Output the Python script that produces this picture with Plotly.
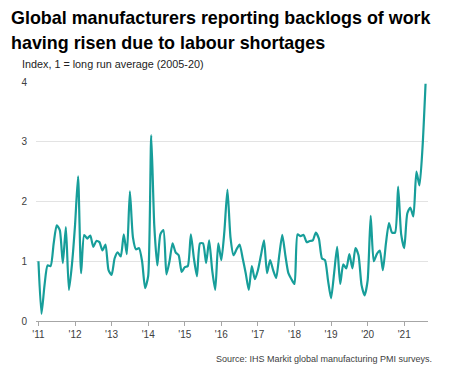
import plotly.graph_objects as go

# Monthly index, Jan 2011 .. Aug 2021 (1 = long run average)
values = [
    1.00, 0.12, 0.60, 0.93, 0.92, 1.30, 1.60, 1.52, 0.97, 1.57, 0.52, 0.95,   # 2011
    1.60, 2.42, 0.80, 1.44, 1.38, 1.43, 1.24, 1.34, 1.32, 1.18, 1.28, 0.85,   # 2012
    0.77, 1.05, 1.15, 1.08, 1.45, 1.12, 2.17, 1.40, 1.20, 1.22, 1.00, 0.55,   # 2013
    0.75, 3.11, 1.60, 0.93, 1.45, 1.52, 0.78, 1.00, 1.30, 1.15, 1.10, 0.82,   # 2014
    0.90, 0.92, 1.45, 1.05, 0.75, 1.30, 1.30, 0.97, 1.35, 0.85, 0.52, 1.30,   # 2015
    1.02, 1.50, 2.20, 1.40, 1.10, 1.20, 1.28, 1.05, 0.80, 0.52, 0.92, 0.70,   # 2016
    0.85, 1.10, 1.35, 0.80, 1.02, 0.85, 0.72, 1.10, 1.44, 1.10, 0.80, 0.70,   # 2017
    0.62, 1.45, 1.42, 1.44, 1.32, 1.34, 1.35, 1.48, 1.38, 1.05, 1.02, 0.68,   # 2018
    0.38, 0.80, 1.24, 0.62, 0.95, 0.88, 1.12, 0.88, 1.22, 1.10, 0.60, 0.43,   # 2019
    0.68, 1.76, 1.00, 1.12, 1.18, 0.85, 1.30, 1.64, 1.48, 1.48, 2.25, 1.45,   # 2020
    1.22, 1.80, 1.90, 1.75, 2.50, 2.27, 2.90, 3.97,                           # 2021
]
months = list(range(len(values)))
tick_positions = [0, 12, 24, 36, 48, 60, 72, 84, 96, 108, 120]
tick_labels = ["'11", "'12", "'13", "'14", "'15", "'16", "'17", "'18", "'19", "'20", "'21"]
y_ticks = [0, 1, 2, 3, 4]

title_lines = ["Global manufacturers reporting backlogs of work",
               "having risen due to labour shortages"]
subtitle = "Index, 1 = long run average (2005-20)"
source = "Source: IHS Markit global manufacturing PMI surveys."

# The page body adds an 8px offset, so the figure is sized to fill the rest
OFF = 8
W, H = 458 - OFF, 376 - OFF
L, R, T, B = 36 - OFF, 30, 82 - OFF, 55
plot_h = H - T - B
plot_w = W - L - R

def py(ref_y):
    return (H - B - (ref_y - OFF)) / plot_h

def px(ref_x):
    return ((ref_x - OFF) - L) / plot_w

fig = go.Figure()
fig.add_trace(go.Scatter(
    x=months, y=values, mode="lines",
    line=dict(color="#179e9a", width=2.2, shape="spline", smoothing=0.6),
    hoverinfo="skip", showlegend=False,
))

font_main = "Liberation Sans, Arial, sans-serif"

fig.update_layout(
    width=W, height=H,
    margin=dict(l=L, r=R, t=T, b=B),
    paper_bgcolor="white", plot_bgcolor="white",
    font=dict(family=font_main, color="#333333"),
    xaxis=dict(
        range=[-0.8, 127.8],
        tickmode="array", tickvals=tick_positions, ticktext=tick_labels,
        showgrid=False, zeroline=False,
        showline=True, linecolor="#a6a6a6", linewidth=1,
        ticks="outside", ticklen=4, tickcolor="#a6a6a6", tickwidth=1,
        tickfont=dict(size=10, color="#404040"),
        fixedrange=True,
    ),
    yaxis=dict(
        range=[0, 4],
        tickmode="array", tickvals=y_ticks,
        showgrid=True, gridcolor="#e3e3e3", gridwidth=1,
        zeroline=False, showline=False, ticks="",
        tickfont=dict(size=10, color="#404040"),
        ticklabelstandoff=8,
        fixedrange=True,
    ),
)

for line, yc in zip(title_lines, [17.5, 42.5]):
    fig.add_annotation(text="<b>" + line + "</b>", x=px(9), y=py(yc),
                       xref="paper", yref="paper", xanchor="left", yanchor="middle",
                       showarrow=False,
                       font=dict(size=17.9, color="#000000", family=font_main))

fig.add_annotation(text=subtitle, x=px(20), y=py(64.5), xref="paper", yref="paper",
                   xanchor="left", yanchor="middle", showarrow=False,
                   font=dict(size=10.8, color="#222222", family=font_main))
fig.add_annotation(text=source, x=px(434), y=py(359), xref="paper", yref="paper",
                   xanchor="right", yanchor="middle", showarrow=False,
                   font=dict(size=9, color="#404040", family=font_main))

fig.write_html("out.html")
